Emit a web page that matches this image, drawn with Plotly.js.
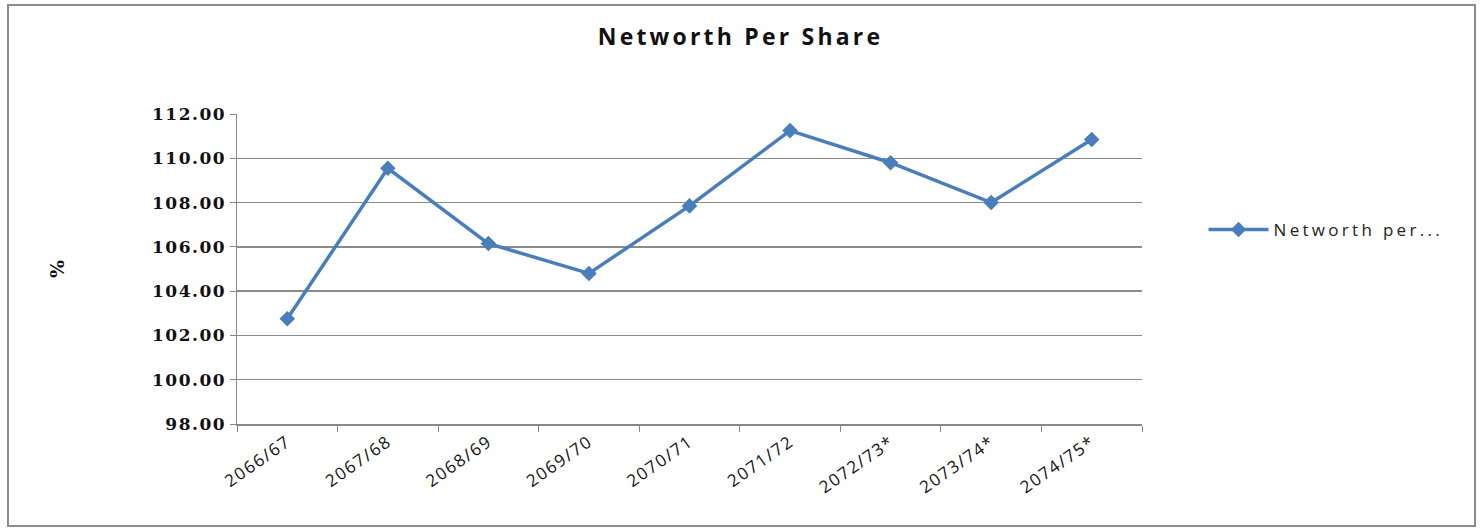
<!DOCTYPE html>
<html>
<head>
<meta charset="utf-8">
<script src="https://cdn.plot.ly/plotly-3.0.1.min.js"></script>
<style>
  html, body { margin: 0; padding: 0; background: #fff; }
  #wrap { position: relative; width: 1481px; height: 529px; }
  #chart { width: 1481px; height: 529px; }
  #frame { position: absolute; left: 7px; top: 4px; width: 1465px; height: 519px; border: 2px solid #8c8c8c; pointer-events: none; }
  .gtitle { letter-spacing: 3.2px; }
  .xtick text { letter-spacing: 1.6px; }
  .ytick text { letter-spacing: 1.5px; }
  .legendtext { letter-spacing: 3.3px; }
</style>
</head>
<body>
<div id="wrap">
  <div id="chart"></div>
  <div id="frame"></div>
</div>
<script>
const categories = ["2066/67", "2067/68", "2068/69", "2069/70", "2070/71", "2071/72", "2072/73*", "2073/74*", "2074/75*"];
const networthPerShare = [102.75, 109.55, 106.15, 104.8, 107.85, 111.25, 109.8, 108.0, 110.85];
const seriesName = "Networth per...";
const chartTitle = "Networth Per Share";
const yTitle = "%";

const sansFont = "Open Sans, Noto Sans, sans-serif";
const tickFont = "DejaVu Serif, serif";

const trace = {
  x: categories,
  y: networthPerShare,
  type: "scatter",
  mode: "lines+markers",
  name: seriesName,
  line: { color: "#4a7ebb", width: 3.5 },
  marker: { symbol: "diamond", size: 12, color: "#4a7ebb" }
};

const layout = {
  width: 1481,
  height: 529,
  margin: { l: 237, r: 339, t: 114, b: 105 },
  paper_bgcolor: "#ffffff",
  plot_bgcolor: "#ffffff",
  font: { family: sansFont, color: "#111" },
  title: {
    text: chartTitle,
    font: { size: 23, family: sansFont, color: "#111", weight: 700 },
    x: 0.5, xref: "container", xanchor: "center",
    y: 1 - 37 / 529, yref: "container", yanchor: "middle"
  },
  showlegend: true,
  legend: {
    x: 1.068, y: 0.626, xanchor: "left", yanchor: "middle",
    itemwidth: 60,
    font: { size: 17, family: sansFont, color: "#222" },
    bgcolor: "rgba(0,0,0,0)"
  },
  xaxis: {
    type: "category",
    tickangle: -35,
    tickson: "boundaries",
    ticks: "outside",
    ticklen: 6,
    tickcolor: "#888",
    showline: true,
    linecolor: "#888",
    linewidth: 1.5,
    showgrid: false,
    tickfont: { size: 17, family: sansFont, color: "#111" },
    range: [-0.5, categories.length - 0.5]
  },
  yaxis: {
    range: [98, 112],
    dtick: 2,
    tick0: 98,
    tickformat: ".2f",
    ticks: "outside",
    ticklen: 6,
    tickcolor: "#888",
    showline: true,
    linecolor: "#888",
    linewidth: 1.5,
    showgrid: true,
    gridcolor: "#8a8a8a",
    gridwidth: 1.3,
    zeroline: false,
    tickfont: { size: 17, family: tickFont, color: "#111", weight: 700 },
    title: { text: yTitle, font: { size: 19, family: tickFont, color: "#111", weight: 700 }, standoff: 82 }
  }
};

Plotly.newPlot("chart", [trace], layout, { displayModeBar: false, staticPlot: true });
</script>
</body>
</html>
